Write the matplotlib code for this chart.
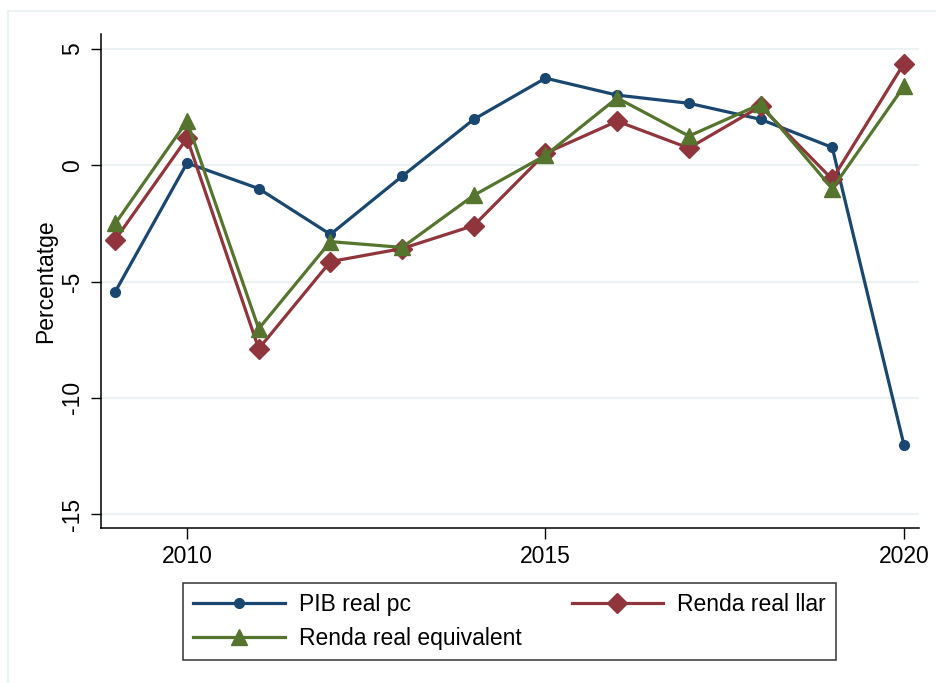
import matplotlib.pyplot as plt
from matplotlib.lines import Line2D

years = [2009, 2010, 2011, 2012, 2013, 2014, 2015, 2016, 2017, 2018, 2019, 2020]
pib_real_pc = [-5.43, 0.1, -1.0, -2.97, -0.47, 1.98, 3.75, 3.02, 2.67, 1.98, 0.77, -12.03]
renda_llar = [-3.19, 1.17, -7.89, -4.14, -3.58, -2.59, 0.52, 1.9, 0.74, 2.54, -0.6, 4.38]
renda_equiv = [-2.5, 1.9, -7.03, -3.28, -3.53, -1.29, 0.43, 2.9, 1.26, 2.63, -1.0, 3.4]

yticks = [-15, -10, -5, 0, 5]
xticks = [2010, 2015, 2020]

plt.rcParams['font.family'] = ['Liberation Sans', 'DejaVu Sans']

W, H = 936, 683
fig = plt.figure(figsize=(W / 100, H / 100), dpi=100)
ax = fig.add_axes([101 / W, 1 - 528 / H, (919 - 101) / W, (528 - 34) / H])

navy = '#1a476f'
maroon = '#90353b'
green = '#55752f'

ax.plot(years, pib_real_pc, color=navy, lw=2.3, marker='o', ms=7,
        label='PIB real pc', zorder=3)
ax.plot(years, renda_llar, color=maroon, lw=2.3, marker='D', ms=10,
        label='Renda real llar', zorder=4)
ax.plot(years, renda_equiv, color=green, lw=2.3, marker='^', ms=11,
        label='Renda real equivalent', zorder=5)

ax.set_xlim(2008.8, 2020.21)
ax.set_ylim(-15.6, 5.65)
ax.set_yticks(yticks)
ax.set_xticks(xticks)
ax.set_yticklabels([str(v) for v in yticks], rotation=90, va='center')
ax.tick_params(axis='both', labelsize=16.5, width=1, color='black')
ax.tick_params(axis='y', length=7, pad=5)
ax.tick_params(axis='x', length=8, pad=4)
ax.grid(axis='y', color='#eaf2f3', lw=1.5)
ax.set_axisbelow(True)
for s in ['top', 'right']:
    ax.spines[s].set_visible(False)
for s in ['left', 'bottom']:
    ax.spines[s].set_linewidth(1.1)
ax.set_ylabel('Percentatge', fontsize=16.5, labelpad=3)

# legend box below the plot, Stata style
handles = [
    Line2D([], [], color=navy, lw=2.3, marker='o', ms=7),
    Line2D([], [], color=maroon, lw=2.3, marker='D', ms=10),
    Line2D([], [], color=green, lw=2.3, marker='^', ms=11),
]
labels = ['PIB real pc', 'Renda real llar', 'Renda real equivalent']
order = [0, 2, 1]
leg = fig.legend([handles[i] for i in order], [labels[i] for i in order],
                 ncol=2, loc='upper left',
                 bbox_to_anchor=(183 / W, 1 - 657 / H, (836 - 183) / W, (657 - 583) / H),
                 mode='expand', fontsize=16.5, frameon=True, fancybox=False,
                 edgecolor='black', handlelength=4.0, handletextpad=0.6,
                 borderpad=0.45, labelspacing=0.45, columnspacing=2.0,
                 borderaxespad=0)
leg.get_frame().set_linewidth(1.1)

# light outer border of the graph region
fig.add_artist(Line2D([8 / W, 8 / W], [0, 1 - 11 / H], color='#eaf2f3', lw=1.5,
                      transform=fig.transFigure))
fig.add_artist(Line2D([8 / W, 1], [1 - 11 / H, 1 - 11 / H], color='#eaf2f3', lw=1.5,
                      transform=fig.transFigure))

fig.savefig('out.png', dpi=100)
